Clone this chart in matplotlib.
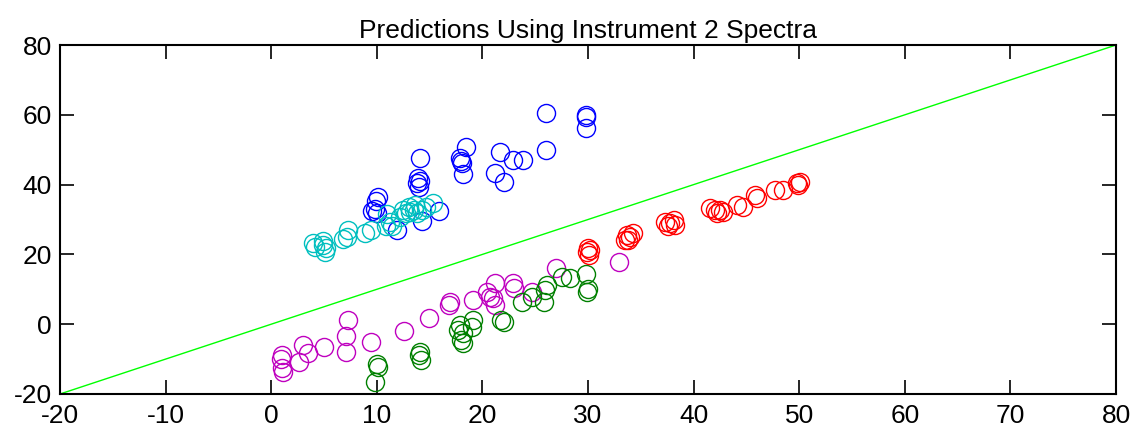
import matplotlib.pyplot as plt
import matplotlib as mpl

# --- Data -------------------------------------------------------

blue_x = [26.0, 29.8, 29.8, 29.8, 26.0, 18.4, 21.7, 22.9, 23.8, 21.2, 22.0,
          17.9, 18.0, 18.1, 18.2, 14.1, 13.9, 14.1, 14.0, 13.8, 10.1, 9.9,
          9.8, 10.05, 9.5, 11.9, 14.3, 15.9]
blue_y = [60.6, 60.0, 59.3, 56.3, 50.0, 50.8, 49.3, 47.0, 47.0, 43.2, 40.8,
          47.7, 46.8, 46.3, 42.9, 47.7, 42.0, 41.0, 39.2, 40.4, 36.5, 35.4,
          32.9, 32.0, 32.5, 27.0, 29.5, 32.4]

cyan_x = [4.0, 4.15, 4.9, 4.9, 5.1, 5.2, 6.8, 7.15, 7.3, 8.9, 9.4, 10.9,
          11.25, 11.4, 11.0, 12.2, 12.5, 12.8, 13.0, 13.1, 13.5, 13.6, 13.8,
          14.25, 14.7, 15.35]
cyan_y = [23.2, 22.2, 23.8, 22.7, 20.8, 21.7, 24.3, 25.1, 27.0, 26.0, 27.0,
          28.0, 29.4, 28.0, 31.5, 30.8, 32.7, 31.8, 33.7, 32.2, 32.7, 34.2,
          31.8, 32.7, 33.7, 34.6]

magenta_x = [1.0, 0.9, 1.0, 1.1, 2.6, 3.0, 3.5, 5.0, 7.3, 7.1, 7.1, 9.4,
             12.6, 14.9, 16.8, 16.9, 19.1, 20.4, 21.2, 21.0, 21.2, 20.7,
             22.9, 23.0, 24.7, 27.0, 32.9]
magenta_y = [-8.8, -10.1, -12.6, -13.6, -10.7, -6.0, -8.3, -6.4, 1.2, -3.4,
             -7.9, -5.0, -2.0, 1.9, 5.5, 6.4, 6.9, 9.3, 11.7, 7.4, 5.5, 7.9,
             11.7, 10.3, 9.3, 16.0, 17.9]

green_x = [10.1, 10.0, 9.8, 14.1, 14.0, 14.2, 17.9, 18.2, 18.0, 18.2, 19.0,
           19.1, 17.7, 21.8, 22.0, 23.7, 24.7, 25.8, 25.9, 26.1, 27.5, 28.3,
           29.8, 30.0, 29.9]
green_y = [-12.2, -11.5, -16.5, -7.9, -8.8, -10.3, -0.2, -2.6, -4.5, -5.5,
           -0.7, 1.2, -1.7, 1.2, 0.7, 6.4, 7.9, 6.4, 9.8, 11.2, 13.6, 13.2,
           14.4, 10.0, 9.3]

red_x = [30.0, 30.2, 30.1, 29.9, 33.7, 34.0, 33.5, 34.3, 33.8, 37.3, 37.8,
         38.1, 37.6, 38.2, 41.55, 42.0, 42.5, 42.8, 42.2, 44.1, 44.7, 45.8,
         46.0, 47.7, 48.5, 49.8, 50.1, 49.9]
red_y = [21.7, 21.3, 19.8, 20.8, 25.6, 25.1, 24.1, 26.1, 24.1, 29.4, 28.9,
         29.9, 28.0, 28.4, 33.2, 32.7, 32.7, 32.2, 31.8, 34.2, 33.7, 37.0,
         36.1, 38.5, 38.5, 40.4, 40.8, 39.9]

lims = [-20, 80]

# --- Style ------------------------------------------------------

mpl.rcParams["font.family"] = ["Liberation Sans", "DejaVu Sans"]
mpl.rcParams["axes.unicode_minus"] = False

fig = plt.figure(figsize=(11.35, 4.32), dpi=100)
ax = fig.add_axes([0.0529, 0.088, 0.9304, 0.8078])

# 1:1 reference line
ax.plot(lims, lims, color="#00ff00", linewidth=1)

groups = [
    (blue_x, blue_y, "#0000ff"),
    (cyan_x, cyan_y, "#00bfbf"),
    (magenta_x, magenta_y, "#bf00bf"),
    (green_x, green_y, "#008000"),
    (red_x, red_y, "#ff0000"),
]
for xs, ys, c in groups:
    ax.plot(xs, ys, "o", markerfacecolor="none", markeredgecolor=c,
            markersize=13, markeredgewidth=1.0)

ax.set_xlim(lims)
ax.set_ylim(lims)
ax.set_xticks(range(-20, 81, 10))
ax.set_yticks(range(-20, 81, 20))

ax.tick_params(direction="in", length=10, width=1.2, labelsize=19,
               top=True, right=True)
ax.tick_params(axis="x", pad=7)
ax.tick_params(axis="y", pad=6)
for spine in ax.spines.values():
    spine.set_linewidth(1.5)

ax.set_title("Predictions Using Instrument 2 Spectra", fontsize=19, pad=5)

fig.savefig("out.png", dpi=100)
